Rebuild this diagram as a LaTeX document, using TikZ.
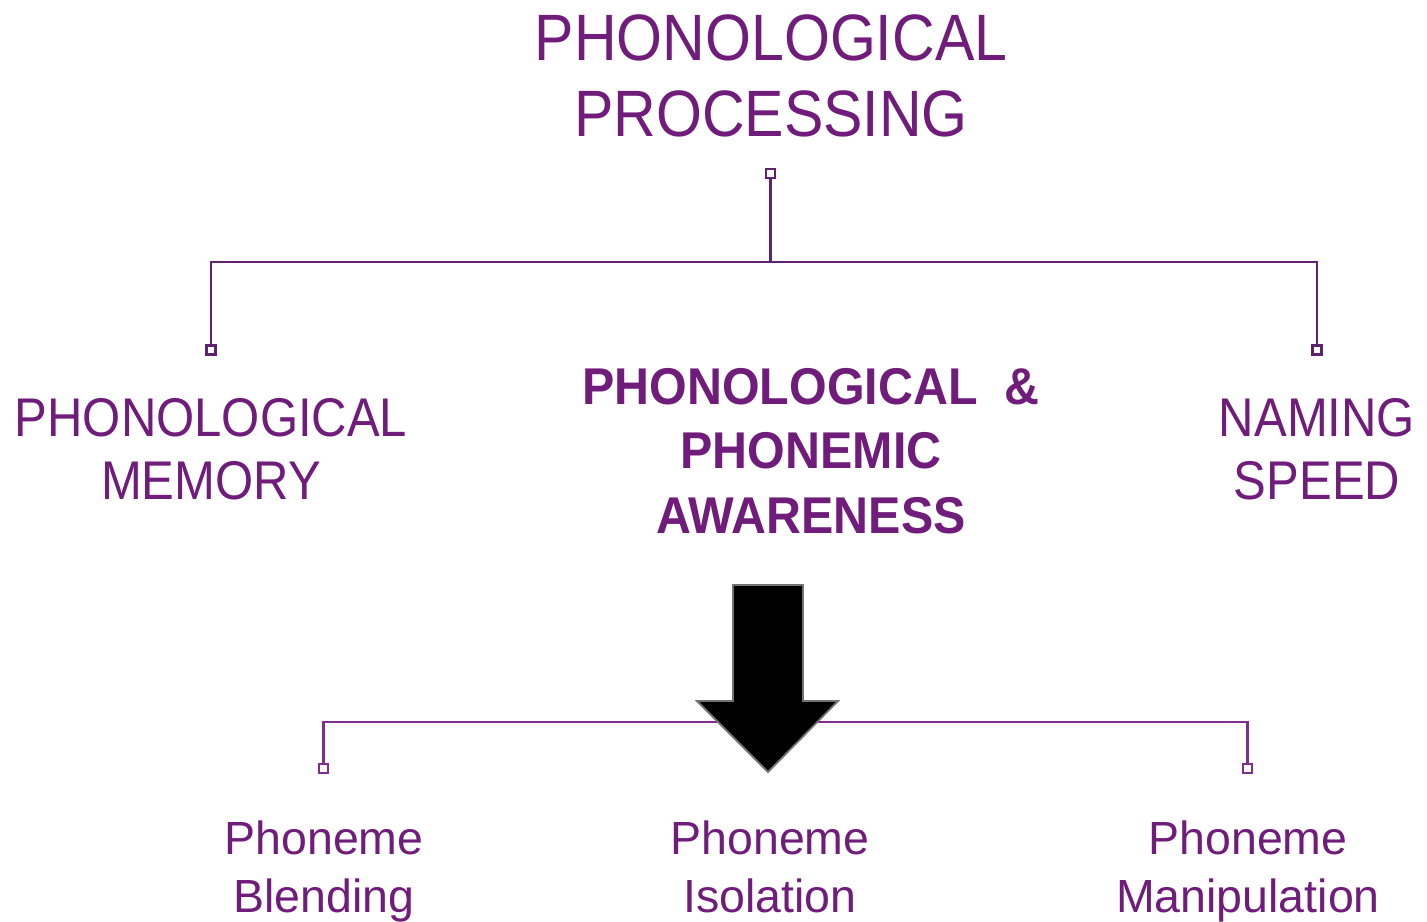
\documentclass[tikz,border=0pt]{standalone}
\usepackage{fontspec}
\setmainfont{Liberation Sans}
\newfontfamily\capsfont[FakeStretch=0.9]{Liberation Sans}
\newfontfamily\boldcapsfont[FakeStretch=0.936]{Liberation Sans Bold}
\definecolor{txtpurple}{HTML}{6F1C7B}
\definecolor{linetop}{HTML}{5E2270}
\definecolor{linebot}{HTML}{7D2E90}
\tikzset{
  % multi-line labels are placed by the baseline of their last line
  label/.style={inner sep=0pt, outer sep=0pt, text=txtpurple, align=center, anchor=base},
  titletext/.style={label, font=\capsfont\fontsize{65.6}{76}\selectfont},
  headtext/.style={label, font=\capsfont\fontsize{54.5}{63}\selectfont},
  boldtext/.style={label, font=\boldcapsfont\fontsize{51.7}{64.5}\selectfont},
  subtext/.style={label, font=\fontsize{46.5}{58}\selectfont},
  tip/.style={draw, fill=white, rectangle, minimum size=9pt, inner sep=0pt, line width=2.2pt},
  branch/.style={line width=2.4pt},
  bigarrow/.style={fill=black, draw=black!55, line width=1.8pt, line join=miter}
}
\begin{document}
\begin{tikzpicture}[x=1pt, y=-1pt]
\useasboundingbox (0,0) rectangle (1427,921);

% upper tree
\node[tip, draw=linetop] (t0) at (770.5,173.5) {};
\node[tip, draw=linetop] (t1) at (211,350) {};
\node[tip, draw=linetop] (t2) at (1317,350) {};
\draw[branch, linetop] (t0.south) |- (770.5,262) -| (t1.north);
\draw[branch, linetop] (770.5,262) -| (t2.north);

% headings
\node[titletext] (title) at (771,136) {PHONOLOGICAL\\PROCESSING};
\node[headtext] (memory) at (211,499) {PHONOLOGICAL\\MEMORY};
\node[headtext] (naming) at (1317,499) {NAMING\\SPEED};
\node[boldtext] (awareness) at (811,533) {PHONOLOGICAL~~\&\\PHONEMIC\\AWARENESS};

% lower tree
\node[tip, draw=linebot] (b1) at (323.5,768.5) {};
\node[tip, draw=linebot] (b2) at (1247.5,768.5) {};
\draw[branch, linebot] (b1.north) |- (1247.5,722) -- (b2.north);

% block arrow
\draw[bigarrow] (733,585) -- (803,585) -- (803,701) -- (838,701) -- (768,772)
  -- (697,701) -- (733,701) -- cycle;

% skills
\node[subtext] (blend) at (324,912) {Phoneme\\Blending};
\node[subtext] (isol) at (770,912) {Phoneme\\Isolation};
\node[subtext] (manip) at (1248,912) {Phoneme\\Manipulation};
\end{tikzpicture}
\end{document}
